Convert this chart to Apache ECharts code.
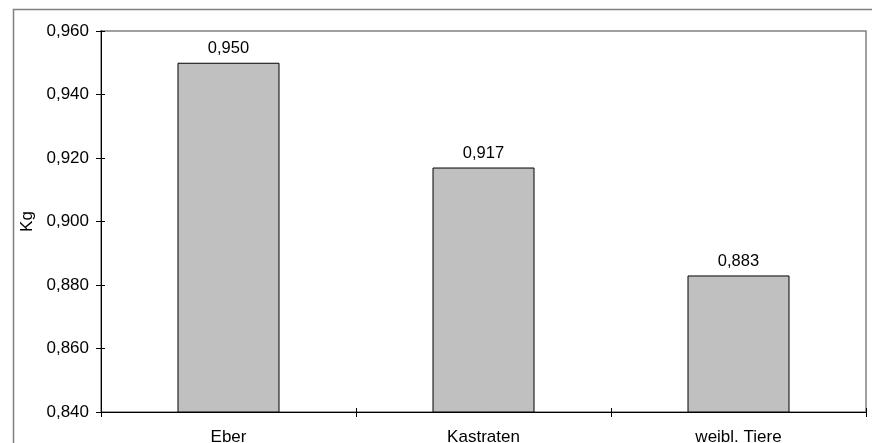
<!DOCTYPE html>
<html>
<head>
<meta charset="utf-8">
<script src="https://cdn.jsdelivr.net/npm/echarts@6/dist/echarts.min.js"></script>
<style>
  html, body { margin: 0; padding: 0; background: #fff; }
  #chart { width: 872px; height: 443px; }
</style>
</head>
<body>
<div id="chart"></div>
<script>
// Futterverbrauch je Kategorie (kg)
const categories = ['Eber', 'Kastraten', 'weibl. Tiere'];
const values = [0.950, 0.917, 0.883];
const yMin = 0.84;
const yMax = 0.96;
const yStep = 0.02;

const fmt = v => v.toFixed(3).replace('.', ',');
const font = 'Liberation Sans, Arial, sans-serif';

const chart = echarts.init(document.getElementById('chart'), null, { renderer: 'canvas' });

const yBase = {
  type: 'value', min: yMin, max: yMax, interval: yStep,
  splitLine: { show: false },
  axisLine: { show: true, lineStyle: { color: '#000', width: 1 } }
};
const xBase = {
  type: 'category', data: categories,
  axisLine: { show: true, lineStyle: { color: '#000', width: 1 } },
  splitLine: { show: false }
};

chart.setOption({
  animation: false,
  backgroundColor: '#fff',
  graphic: [{
    type: 'rect',
    shape: { x: 13.5, y: 9.5, width: 1000, height: 1000 },
    style: { fill: 'none', stroke: '#7f7f7f', lineWidth: 1.5 },
    z: 0
  }],
  grid: {
    left: 101, top: 31, right: 6, bottom: 31,
    outerBoundsMode: 'none', containLabel: false,
    show: true, borderColor: '#808080', borderWidth: 1.5, backgroundColor: '#fff'
  },
  yAxis: [
    Object.assign({}, yBase, {
      name: 'Kg', nameLocation: 'middle', nameGap: 63, nameRotate: 90,
      nameTextStyle: { color: '#000', fontSize: 17, fontFamily: font },
      axisTick: { show: true, length: 5, inside: false, lineStyle: { color: '#000' } },
      axisLabel: { formatter: fmt, color: '#000', fontSize: 17, fontFamily: font, margin: 12 }
    }),
    Object.assign({}, yBase, {
      position: 'left',
      axisTick: { show: true, length: 4, inside: true, lineStyle: { color: '#000' } },
      axisLabel: { show: false }
    })
  ],
  xAxis: [
    Object.assign({}, xBase, {
      axisTick: { show: true, length: 5, inside: false, lineStyle: { color: '#000' } },
      axisLabel: { color: '#000', fontSize: 17, fontFamily: font, margin: 17 }
    }),
    Object.assign({}, xBase, {
      position: 'bottom',
      axisTick: { show: true, length: 4, inside: true, lineStyle: { color: '#000' } },
      axisLabel: { show: false }
    })
  ],
  series: [{
    type: 'bar',
    data: values,
    barWidth: '40%',
    itemStyle: { color: '#c0c0c0', borderColor: '#000', borderWidth: 1 },
    label: {
      show: true, position: 'top', distance: 6,
      formatter: p => fmt(p.value),
      color: '#000', fontSize: 16.5, fontFamily: font
    }
  }]
});
</script>
</body>
</html>
